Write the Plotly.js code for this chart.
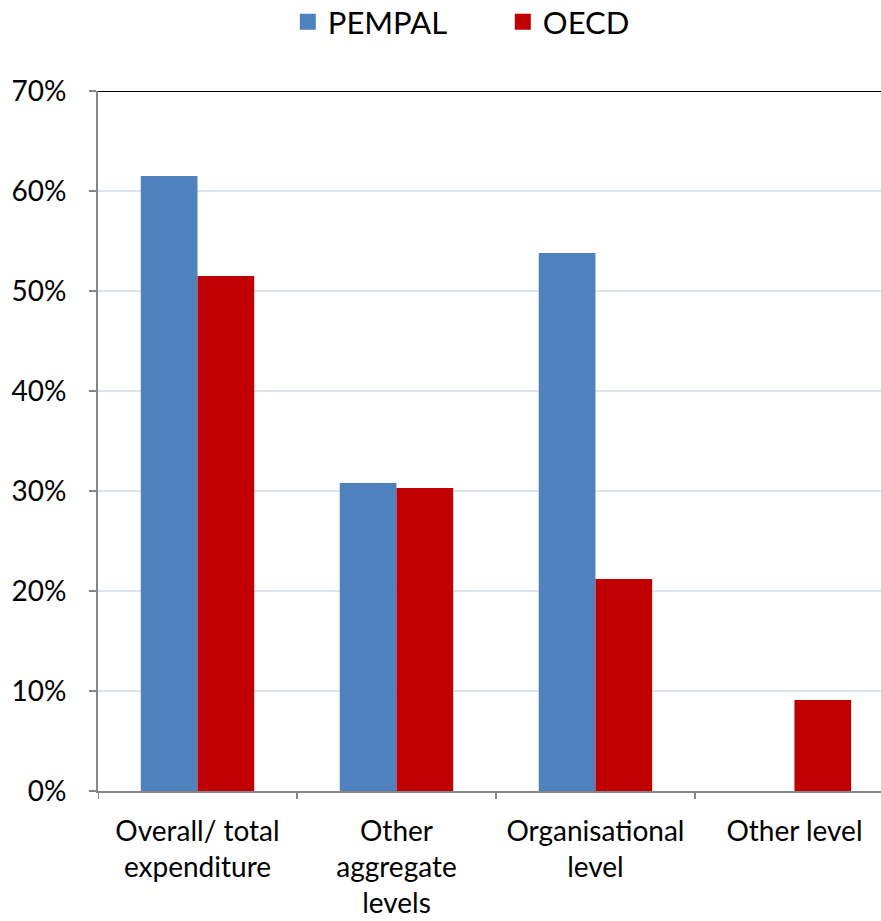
<!DOCTYPE html>
<html><head><meta charset="utf-8">
<script src="https://cdn.plot.ly/plotly-3.0.1.min.js"></script>
<style>html,body{margin:0;padding:0;background:#fff;overflow:hidden}</style>
</head><body><div id="chart" style="width:881px;height:921px"></div>
<script>
const categories = ["Overall/ total<br>expenditure", "Other<br>aggregate<br>levels", "Organisational<br>level", "Other level"];
const pempal = [0.615, 0.308, 0.538, 0];
const oecd = [0.515, 0.303, 0.212, 0.091];
const seriesNames = ["PEMPAL", "OECD"];
const colors = ["#4f81bd", "#c00000"];
const yTicks = [0, 0.1, 0.2, 0.3, 0.4, 0.5, 0.6, 0.7];

const fam = "Lato, 'Open Sans', sans-serif";
const font = {family: fam, size: 28, color: "#000"};
const idx = categories.map((c, i) => i);

const traces = [
  {type: "bar", x: idx, y: pempal, name: seriesNames[0], marker: {color: colors[0]}, showlegend: false},
  {type: "bar", x: idx, y: oecd, name: seriesNames[1], marker: {color: colors[1]}, showlegend: false},
  {type: "scatter", mode: "markers", x: [null], y: [null], name: seriesNames[0], marker: {symbol: "square", size: 20, color: colors[0]}},
  {type: "scatter", mode: "markers", x: [null], y: [null], name: seriesNames[1], marker: {symbol: "square", size: 20, color: colors[1]}}
];

const layout = {
  width: 881, height: 921,
  margin: {l: 98, r: 0, t: 91, b: 130, pad: 0, autoexpand: false},
  paper_bgcolor: "#fff", plot_bgcolor: "#fff",
  font: font,
  barmode: "group", bargap: 0.43, bargroupgap: 0,
  showlegend: true,
  legend: {orientation: "h", x: 0.517, xanchor: "center", y: 1.0986, yanchor: "middle", yref: "paper",
           font: {family: fam, size: 31, color: "#000"}, itemwidth: 30, entrywidth: 170, traceorder: "normal"},
  xaxis: {
    type: "linear", range: [-0.5, 3.435], automargin: false,
    tickmode: "array", tickvals: idx, ticktext: categories,
    showgrid: false, zeroline: false, showline: true, linecolor: "#868686", linewidth: 2,
    ticks: "", ticklabelstandoff: 14, tickfont: font, fixedrange: true
  },
  yaxis: {
    range: [0, 0.7], automargin: false, tickmode: "array", tickvals: yTicks, tickformat: ".0%",
    showgrid: true, gridcolor: "#dce4ee", gridwidth: 1.5, zeroline: false,
    showline: true, linecolor: "#868686", linewidth: 2,
    ticks: "outside", ticklen: 7, tickcolor: "#868686", tickwidth: 2,
    ticklabelstandoff: 17, tickfont: font
  },
  shapes: [
    {type: "line", xref: "paper", yref: "y", x0: 0, x1: 1, y0: 0.7, y1: 0.7, line: {color: "#000", width: 2}}
  ]
};
// boundary tick marks below x axis
layout.shapes = layout.shapes.concat([-0.5, 0.5, 1.5, 2.5].map(v => ({type: "line", xref: "x", yref: "paper", ysizemode: "pixel", yanchor: 0, x0: v, x1: v, y0: 0, y1: -8, line: {color: "#868686", width: 2}})));

Plotly.newPlot("chart", traces, layout, {displayModeBar: false, staticPlot: true});
</script></body></html>
